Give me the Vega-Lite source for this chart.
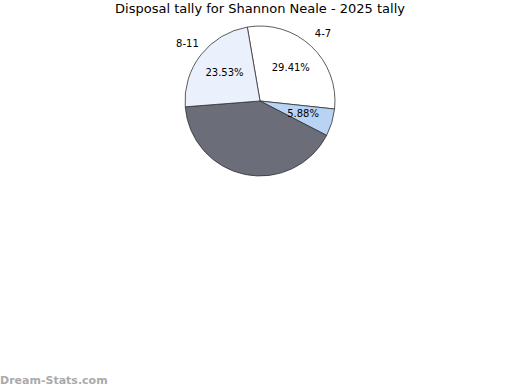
{
  "$schema": "https://vega.github.io/schema/vega-lite/v6.json",
  "width": 520,
  "height": 150,
  "padding": {"left": 0, "right": 0, "top": 3, "bottom": 0},
  "autosize": {"type": "pad"},
  "background": "#ffffff",
  "title": {"text": "Disposal tally for Shannon Neale - 2025 tally", "fontSize": 13, "font": "DejaVu Sans", "fontWeight": "normal", "color": "#000000", "offset": 8},
  "view": {"stroke": null},
  "layer": [
    {
      "data": {"values": [
        {"range": "4-7", "pct": 29.41, "label": "29.41%", "outer": "4-7", "order": 1},
        {"range": "12-15", "pct": 5.88, "label": "5.88%", "outer": "", "order": 2},
        {"range": "16-19", "pct": 41.18, "label": "", "outer": "", "order": 3},
        {"range": "8-11", "pct": 23.53, "label": "23.53%", "outer": "8-11", "order": 4}
      ]},
      "encoding": {
        "theta": {"field": "pct", "type": "quantitative", "stack": true, "scale": {"range": [-0.17, 6.113]}},
        "order": {"field": "order", "type": "quantitative"}
      },
      "layer": [
        {
          "mark": {"type": "arc", "outerRadius": 75, "stroke": "#333333", "strokeWidth": 0.8},
          "encoding": {
            "color": {"field": "range", "type": "nominal", "legend": null,
              "scale": {"domain": ["4-7", "12-15", "16-19", "8-11"], "range": ["#ffffff", "#b9d3f5", "#6b6e78", "#eaf1fd"]}}
          }
        },
        {
          "mark": {"type": "text", "radius": 45, "fontSize": 10, "font": "DejaVu Sans", "color": "#000000"},
          "encoding": {"text": {"field": "label", "type": "nominal"}}
        },
        {
          "mark": {"type": "text", "radius": 92, "fontSize": 10, "font": "DejaVu Sans", "color": "#000000"},
          "encoding": {"text": {"field": "outer", "type": "nominal"}}
        }
      ]
    },
    {
      "data": {"values": [{"t": "Dream-Stats.com"}]},
      "mark": {"type": "text", "align": "left", "baseline": "middle", "fontSize": 11, "fontWeight": "bold", "font": "DejaVu Sans", "color": "#aaaaaa"},
      "encoding": {
        "text": {"field": "t", "type": "nominal"},
        "x": {"value": 0},
        "y": {"value": 355}
      }
    }
  ]
}
